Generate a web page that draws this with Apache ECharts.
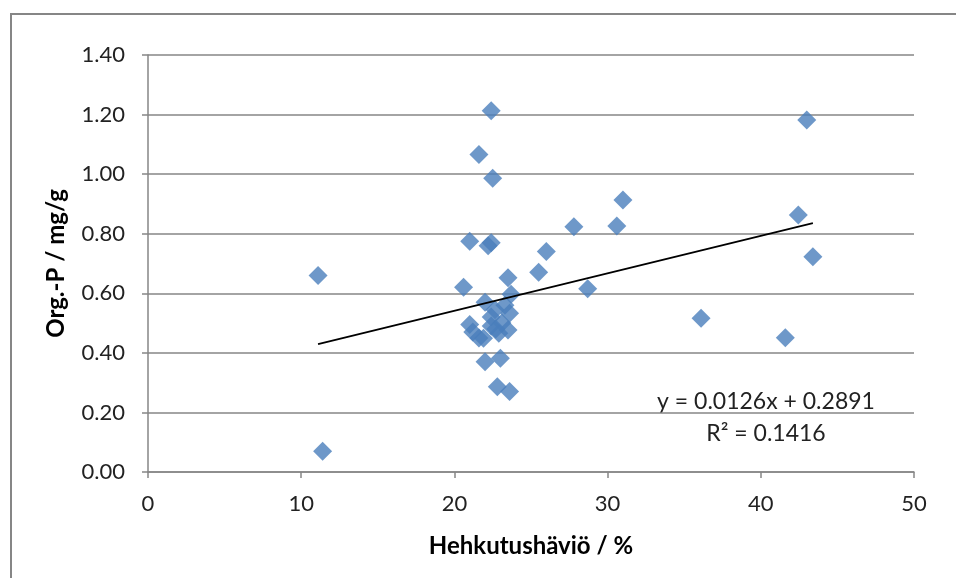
<!DOCTYPE html>
<html>
<head>
<meta charset="utf-8">
<script src="https://cdn.jsdelivr.net/npm/echarts@6/dist/echarts.min.js"></script>
<style>
  html, body { margin: 0; padding: 0; background: #ffffff; }
  #chart { width: 956px; height: 578px; }
</style>
</head>
<body>
<div id="chart"></div>
<script>
// Loss on ignition (%) vs. organic phosphorus (mg/g)
const lossOnIgnition = [
  11.1, 11.4, 20.6, 21.0, 21.0, 21.2, 21.6, 21.6, 22.0, 22.0,
  22.2, 22.4, 22.4, 22.5, 22.4, 22.4, 22.65, 22.8, 22.9, 23.0,
  23.1, 23.3, 23.5, 23.6, 23.5, 23.6, 23.7, 25.5, 26.0, 27.8,
  28.7, 30.6, 31.0, 36.1, 41.6, 42.45, 43.0, 43.4, 21.9, 22.7
];
const orgP = [
  0.66, 0.07, 0.62, 0.775, 0.495, 0.47, 0.45, 1.066, 0.37, 0.57,
  0.76, 0.77, 1.213, 0.986, 0.52, 0.49, 0.545, 0.286, 0.466, 0.382,
  0.50, 0.56, 0.477, 0.533, 0.652, 0.27, 0.597, 0.671, 0.740, 0.823,
  0.615, 0.826, 0.913, 0.516, 0.451, 0.863, 1.182, 0.723, 0.449, 0.48
];

// Linear trendline coefficients
const trendSlope = 0.0126;
const trendIntercept = 0.2891;
const trendR2 = 0.1416;

const xTicks = [0, 10, 20, 30, 40, 50];
const yTicks = [0, 0.2, 0.4, 0.6, 0.8, 1.0, 1.2, 1.4];

const points = lossOnIgnition.map((x, i) => [x, orgP[i]]);
const xMin = Math.min(...lossOnIgnition);
const xMax = Math.max(...lossOnIgnition);
const trendLine = [xMin, xMax].map(x => [x, trendSlope * x + trendIntercept]);

const gray = '#868686';
const font = 'Lato, "Open Sans", sans-serif';

const chart = echarts.init(document.getElementById('chart'), null, { renderer: 'canvas' });
chart.setOption({
  backgroundColor: '#ffffff',
  animation: false,
  grid: { left: 148, right: 42, top: 55, bottom: 106 },
  xAxis: {
    type: 'value',
    min: xTicks[0],
    max: xTicks[xTicks.length - 1],
    interval: 10,
    name: 'Hehkutushäviö / %',
    nameLocation: 'middle',
    nameGap: 62,
    nameTextStyle: { fontFamily: font, fontSize: 24, fontWeight: 'bold', color: '#000' },
    axisLine: { show: true, lineStyle: { color: gray, width: 1.5 } },
    axisTick: { show: true, inside: false, length: 6, lineStyle: { color: gray, width: 1.5 } },
    axisLabel: { fontFamily: font, fontSize: 22, color: '#222', margin: 21 },
    splitLine: { show: false }
  },
  yAxis: {
    type: 'value',
    min: yTicks[0],
    max: yTicks[yTicks.length - 1],
    interval: 0.2,
    name: 'Org.-P / mg/g',
    nameLocation: 'middle',
    nameGap: 80,
    nameTextStyle: { fontFamily: font, fontSize: 24, fontWeight: 'bold', color: '#000' },
    axisLine: { show: true, lineStyle: { color: gray, width: 1.5 } },
    axisTick: { show: true, inside: false, length: 6, lineStyle: { color: gray, width: 1.5 } },
    axisLabel: { fontFamily: font, fontSize: 22, color: '#222', margin: 23,
      formatter: v => v.toFixed(2) },
    splitLine: { show: true, lineStyle: { color: gray, width: 1.5 } }
  },
  series: [
    {
      type: 'scatter',
      data: points,
      symbol: 'diamond',
      symbolSize: 19,
      itemStyle: { color: '#4a7ebb' },
      z: 3
    },
    {
      type: 'line',
      data: trendLine,
      symbol: 'none',
      lineStyle: { color: '#000', width: 1.8 },
      z: 4
    }
  ],
  graphic: [
    {
      type: 'rect',
      shape: { x: 11, y: 14, width: 1000, height: 1000 },
      style: { fill: 'none', stroke: gray, lineWidth: 2 },
      silent: true
    },
    {
      type: 'text',
      x: 766, y: 402,
      style: {
        text: 'y = ' + trendSlope + 'x + ' + trendIntercept,
        font: '23px ' + font, fill: '#222',
        textAlign: 'center', textVerticalAlign: 'middle'
      }
    },
    {
      type: 'text',
      x: 766, y: 434,
      style: {
        text: 'R² = ' + trendR2,
        font: '23px ' + font, fill: '#222',
        textAlign: 'center', textVerticalAlign: 'middle'
      }
    }
  ]
});
</script>
</body>
</html>
